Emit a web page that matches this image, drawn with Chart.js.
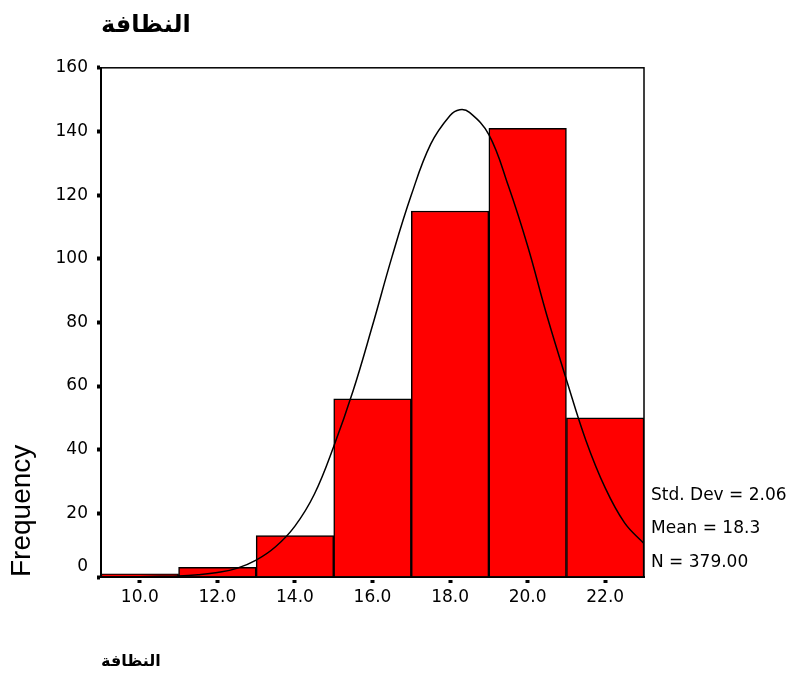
<!DOCTYPE html>
<html>
<head>
<meta charset="utf-8">
<script src="https://cdn.jsdelivr.net/npm/chart.js@4"></script>
<style>
  html, body { margin: 0; padding: 0; background: #fff; }
  #wrap { width: 792px; height: 680px; }
</style>
</head>
<body>
<div id="wrap"><canvas id="myChart" width="792" height="680"></canvas></div>
<script>
"use strict";

const chartTitle = "النظافة";
const xTitle = "النظافة";
const yTitle = "Frequency";

// histogram bins (centres, width 2) and counts
const binCenters = [10, 12, 14, 16, 18, 20, 22];
const frequencies = [1, 3, 13, 56, 115, 141, 50];

// normal curve
const curveX = [9, 9.5, 10, 10.5, 11, 11.5, 12, 12.5, 13, 13.5, 14, 14.5, 15, 15.5, 16,
  16.5, 17, 17.5, 18, 18.25, 18.5, 19, 19.5, 20, 20.5, 21, 21.5, 22, 22.5, 23];
const curveY = [0, 0, 0.1, 0.2, 0.3, 0.7, 1.4, 2.7, 5.3, 9.5, 16, 26, 41, 58.5, 79,
  100.5, 120, 136, 145, 146.8, 146, 139, 123, 104, 82, 62, 43, 28, 17, 10.5];

const xTickValues = [10, 12, 14, 16, 18, 20, 22];
const xTickLabels = ["10.0", "12.0", "14.0", "16.0", "18.0", "20.0", "22.0"];

const statLabels = ["Std. Dev = 2.06", "Mean = 18.3", "N = 379.00"];

const tickFont = { family: "'DejaVu Sans', sans-serif", size: 17 };

const boxAndStats = {
  id: "boxAndStats",
  afterDraw(chart) {
    const { ctx, chartArea: a } = chart;
    ctx.save();
    ctx.strokeStyle = "#000";
    ctx.lineWidth = 1.5;
    ctx.strokeRect(a.left, a.top, a.right - a.left, a.bottom - a.top);
    ctx.fillStyle = "#000";
    ctx.font = "17px 'DejaVu Sans', sans-serif";
    ctx.textAlign = "left";
    ctx.textBaseline = "alphabetic";
    const offs = [77, 44, 10];
    statLabels.forEach((s, i) => {
      ctx.fillText(s, a.right + 7, a.bottom - offs[i]);
    });
    ctx.restore();
  },
};

const ctx = document.getElementById("myChart").getContext("2d");
const myChart = new Chart(ctx, {
  type: "bar",
  data: {
    datasets: [
      {
        type: "line",
        data: curveX.map((x, i) => ({ x: x, y: curveY[i] })),
        borderColor: "#000",
        borderWidth: 1.5,
        pointRadius: 0,
        tension: 0.4,
        fill: false,
        order: 0,
      },
      {
        type: "bar",
        data: binCenters.map((x, i) => ({ x: x, y: frequencies[i] })),
        backgroundColor: "#ff0000",
        borderColor: "#000",
        borderWidth: 1.5,
        barPercentage: 1,
        categoryPercentage: 1,
        order: 1,
      },
    ],
  },
  options: {
    responsive: false,
    animation: false,
    layout: { padding: { top: 0, right: 148, bottom: 0, left: 0 } },
    plugins: {
      legend: { display: false },
      tooltip: { enabled: false },
      title: {
        display: true,
        text: chartTitle,
        align: "start",
        fullSize: false,
        color: "#000",
        font: { family: "'DejaVu Sans', sans-serif", size: 24, weight: "bold" },
        padding: { top: 11, bottom: 28 },
      },
    },
    scales: {
      x: {
        type: "linear",
        min: 9,
        max: 23,
        offset: false,
        afterBuildTicks: (scale) => {
          scale.ticks = xTickValues.map((v) => ({ value: v }));
        },
        afterFit: (scale) => {
          scale.height = 103;
        },
        ticks: {
          color: "#000",
          font: tickFont,
          padding: 4,
          maxRotation: 0,
          callback: (value, index) => xTickLabels[index],
        },
        grid: {
          offset: false,
          drawOnChartArea: false,
          drawTicks: true,
          tickLength: 6,
          tickWidth: 4,
          tickColor: "#000",
          tickBorderDash: [0, 2, 4, 40],
        },
        border: { display: true, color: "#000", width: 2 },
        title: {
          display: true,
          text: xTitle,
          align: "start",
          color: "#000",
          font: { family: "'DejaVu Sans', sans-serif", size: 16, weight: "bold" },
          padding: { top: 0, bottom: 9 },
        },
      },
      y: {
        min: 0,
        max: 160,
        afterFit: (scale) => {
          scale.width = 101;
        },
        ticks: {
          stepSize: 20,
          color: "#000",
          font: tickFont,
          padding: 9,
          callback: (value) => (value === 0 ? ["0", ""] : String(value)),
        },
        grid: {
          drawOnChartArea: false,
          drawTicks: true,
          tickLength: 4,
          tickWidth: 4,
          tickColor: "#000",
        },
        border: { display: true, color: "#000", width: 2 },
        title: {
          display: true,
          text: yTitle,
          align: "start",
          color: "#000",
          font: { family: "'Liberation Sans', Arial, sans-serif", size: 28 },
          padding: { top: 5, bottom: 0 },
        },
      },
    },
  },
  plugins: [boxAndStats],
});
</script>
</body>
</html>
